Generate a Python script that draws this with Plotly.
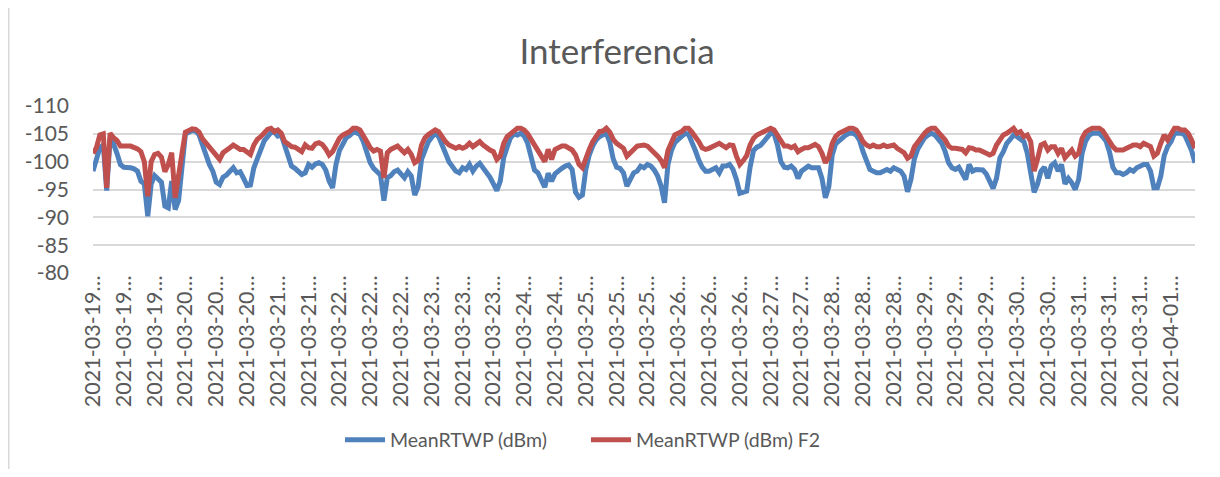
import pandas as pd
import plotly.graph_objects as go

title_text = "Interferencia"
series_names = ["MeanRTWP (dBm)", "MeanRTWP (dBm) F2"]
start_time = "2021-03-19 00:00"
label_every = 9

blue_values = [
    -98.3, -100.8, -102.5, -103, -94.8, -104.3, -103.2, -101.5, -99.5, -99, -99, -98.9,
    -98.7, -98.3, -96.5, -96, -90.2, -96, -97.5, -96.8, -96.3, -92, -91.7, -96.5,
    -91.4, -93, -100, -105, -105.3, -105.6, -105.5, -104.8, -103, -101, -99.5, -98.3,
    -96.3, -95.9, -97.2, -97.6, -98.2, -98.9, -98, -98.2, -97, -95.7, -95.8, -98.9,
    -100.5, -102.2, -103.7, -104.5, -105.2, -105.3, -104.6, -104.8, -102.8, -100.6, -99.2, -98.8,
    -98.2, -97.7, -98, -99.5, -99, -99.6, -99.8, -99.5, -98.5, -96.5, -95.3, -99.5,
    -102, -103.3, -104.3, -104.7, -105.3, -105.2, -104.9, -103.6, -101.5, -99.8, -98.8, -98.2,
    -97.6, -93, -97.1, -97.5, -98.2, -98.5, -97.9, -97.1, -98.2, -97.4, -94, -95.5,
    -100.4, -102.3, -103.6, -104.4, -105.1, -104.5, -103.2, -101.5, -100, -99.2, -98.3, -98,
    -98.9, -98.6, -99.5, -98.3, -99.2, -99.7, -98.9, -98.3, -97.2, -96, -94.8, -96.5,
    -100.7, -102.6, -104.3, -105, -104.8, -105.1, -104.6, -103.3, -101, -98.5, -98, -96.7,
    -95.4, -97.9, -96.5, -97.8, -98.4, -98.8, -99.2, -99.4, -98.6, -94.5, -93.6, -94,
    -98.6, -101.2, -102.8, -103.9, -104.5, -104.9, -105.1, -103.5, -100.5, -99, -98.8, -98,
    -95.6, -96.8, -98, -98.3, -99.2, -98.9, -99.5, -99.2, -98.5, -97.4, -95.6, -92.6,
    -99.5, -102, -103.4, -104, -104.5, -105.1, -104.9, -103.6, -102, -100.3, -99, -98.3,
    -98.3, -98.6, -98.9, -98, -99.2, -99.2, -99.5, -98.6, -96.8, -94.3, -94.4, -94.7,
    -99, -102, -102.6, -102.9, -103.6, -104.3, -105.1, -105, -103, -100, -99, -98.9,
    -99.2, -98.6, -97, -98.3, -98.9, -99.2, -98.9, -98.9, -98.9, -97, -93.5, -95.5,
    -101.2, -103.2, -103.8, -104.1, -104.8, -105.1, -105.1, -104.8, -103.8, -101.8, -100.1, -98.6,
    -98.3, -98, -98, -98.3, -98.6, -98.3, -98.9, -98.6, -98.3, -97.4, -94.6, -96.8,
    -100.5, -102.3, -103.4, -104.3, -104.8, -105.1, -104.8, -104.2, -103.3, -101.8, -99.8, -98.9,
    -98.6, -99, -98, -96.8, -99.5, -98.3, -98.6, -98.6, -98.5, -97.8, -96.5, -95.2,
    -97, -100.7, -101.8, -103.3, -104, -104.8, -104.5, -104, -103.6, -101.5, -98.3, -94.5,
    -96, -98.3, -99, -97, -99.3, -99.8, -98.3, -99.5, -96, -97, -96.2, -95,
    -96.8, -101.5, -103.6, -104.7, -105.1, -105.1, -105.1, -104.5, -103.7, -101.8, -99, -98,
    -98, -97.7, -98, -98.6, -98.3, -98.9, -99.2, -99.5, -99.5, -98.3, -95.3, -95.3,
    -97.4, -101.1, -102.7, -103.6, -105.1, -105.1, -105.1, -104.8, -103.6, -102, -99.8,
]

red_values = [
    -101.5, -102.5, -104.8, -105, -95.3, -105.1, -104.3, -103.8, -102.8, -102.7, -102.8, -102.8,
    -102.6, -102.3, -101.8, -100, -93.8, -100, -101.3, -101.5, -100.8, -98.2, -99.5, -101.6,
    -93.5, -98, -101.5, -105.3, -105.6, -105.9, -105.8, -105.3, -104.1, -103.3, -102.7, -102,
    -101, -100.4, -101.6, -102.2, -102.5, -103, -102.5, -102.2, -102.2, -101.6, -101.3, -103,
    -104, -104.5, -105.3, -105.8, -106, -105.4, -105.7, -105.1, -103.6, -103, -102.7, -102.6,
    -102.1, -101.8, -103, -102.5, -102.4, -103.2, -103.4, -103.1, -102.3, -101.2, -101.8, -103.2,
    -104.2, -104.8, -105.1, -105.4, -106, -106, -105.7, -104.8, -103.6, -102.5, -101.9, -102.2,
    -101.9, -97.1, -101.6, -102.2, -102.5, -102.8, -102.2, -101.6, -102.2, -101.3, -99.8, -100.2,
    -103, -104.3, -104.9, -105.4, -105.7, -105.4, -104.3, -103.6, -103, -102.7, -102.4, -102.7,
    -102.4, -102.7, -103.3, -102.7, -103.3, -103.6, -103, -102.4, -102.1, -101.8, -100.4, -101,
    -103.3, -104.5, -105, -105.6, -106, -106, -105.7, -105, -104, -102.6, -101.8, -100.9,
    -100, -102.2, -100.4, -102.2, -102.5, -102.8, -102.8, -102.5, -102.1, -101.2, -99.5, -98.9,
    -100.8, -102.2, -103.6, -104.5, -105.4, -105.5, -106, -105.3, -104, -103.3, -102.9, -102.4,
    -101, -101.5, -102.2, -102.8, -103, -103, -102.8, -102.2, -101.9, -101, -100.2, -98.9,
    -102, -103.6, -104.8, -105.1, -105.4, -106, -106, -105.3, -104.5, -103.6, -102.5, -102.2,
    -102.4, -102.8, -103, -103.3, -102.8, -102.5, -103, -102.9, -101, -99.5, -100.2, -101.1,
    -103, -104.2, -104.8, -105.1, -105.4, -105.6, -106, -105.7, -104.8, -103.6, -102.8, -102.8,
    -102.5, -102.8, -101.8, -102.2, -102.5, -102.5, -102.8, -103.1, -102.7, -101.5, -99.8, -100.8,
    -103.3, -104.5, -105.1, -105.4, -105.7, -106, -106, -105.7, -104.8, -103.6, -103, -102.7,
    -103, -102.7, -102.7, -103, -102.7, -102.9, -103, -102.4, -102, -101.6, -100.6, -101,
    -102.7, -103.6, -104.5, -105.1, -105.7, -106, -106, -105.4, -104.8, -103.9, -102.8, -102.4,
    -102.4, -102.4, -102.2, -101.6, -102.5, -102.4, -102.1, -102.1, -101.9, -101.5, -101.2, -101.5,
    -103, -103.9, -104.8, -105.1, -105.7, -106, -105.1, -105.4, -104.5, -104.8, -103.6, -98.3,
    -100.5, -103, -103.3, -102.1, -102.7, -102.7, -101.5, -102.4, -100.7, -101.5, -102.1, -101,
    -101.5, -104.2, -105.3, -105.7, -106, -106, -106, -105.6, -104.5, -103.6, -102.7, -102.1,
    -102.1, -102.1, -102.4, -102.7, -103, -103, -102.7, -103.3, -103, -102.7, -101, -101.5,
    -103.3, -104.8, -103.9, -105.1, -106, -106, -105.7, -105.7, -105.1, -103.9, -102.4,
]

y_ticks = [-110, -105, -100, -95, -90, -85, -80]
y_tick_text = ["-110", "-105", "-100", "-95", "-90", "-85", "-80"]

categories = [
    t.strftime("%Y-%m-%d %H:%M:%S")
    for t in pd.date_range(start_time, periods=len(blue_values), freq="h")
]
tick_vals = categories[::label_every]
tick_text = [c[:10] + "\u2026" for c in tick_vals]

FONT = "Lato, 'Open Sans', sans-serif"
TXT = "#595959"
GRID = "#d9d9d9"

# The page body has an 8px margin, so the figure is sized/offset to compensate.
W, H = 1204, 461
L, R, T, B = 85, 17, 98, 196
plot_w = W - L - R
plot_h = H - T - B

fig = go.Figure()
fig.add_trace(go.Scatter(
    x=categories, y=blue_values, mode="lines", name=series_names[0],
    line=dict(color="#4f81bd", width=5),
))
fig.add_trace(go.Scatter(
    x=categories, y=red_values, mode="lines", name=series_names[1],
    line=dict(color="#c0504d", width=5),
))

fig.update_layout(
    width=W, height=H,
    margin=dict(l=L, r=R, t=T, b=B, autoexpand=False),
    paper_bgcolor="white", plot_bgcolor="white",
    font=dict(family=FONT, color=TXT, size=20),
    title=dict(text=title_text, x=609 / W, xref="container", xanchor="center",
               y=1 - 44 / H, yref="container", yanchor="middle",
               font=dict(size=35, color=TXT, family=FONT)),
    showlegend=True,
    legend=dict(orientation="h", x=332 / W, xanchor="left", xref="container",
                y=1 - 432 / H, yref="container", yanchor="middle",
                font=dict(size=19.5, color=TXT), itemwidth=40,
                entrywidth=191, entrywidthmode="pixels",
                traceorder="normal"),
    xaxis=dict(type="category", range=[0, len(categories) - 1],
               tickmode="array", tickvals=tick_vals, ticktext=tick_text,
               tickangle=-90, showgrid=False, showline=False, zeroline=False,
               ticks="", tickfont=dict(size=21.5, color=TXT), ticklabelstandoff=-3),
    yaxis=dict(range=[-80, -110], tickmode="array", tickvals=y_ticks,
               ticktext=y_tick_text,
               showgrid=True, gridcolor=GRID, gridwidth=2, zeroline=False,
               showline=False, ticks="", tickfont=dict(size=21, color=TXT),
               ticklabelstandoff=23),
    shapes=[dict(type="line", xref="paper", yref="paper",
                 x0=(0.75 - L) / plot_w, x1=(0.75 - L) / plot_w,
                 y0=-B / plot_h, y1=(plot_h + T) / plot_h,
                 line=dict(color=GRID, width=1.5))],
)

fig.write_html("out.html")
